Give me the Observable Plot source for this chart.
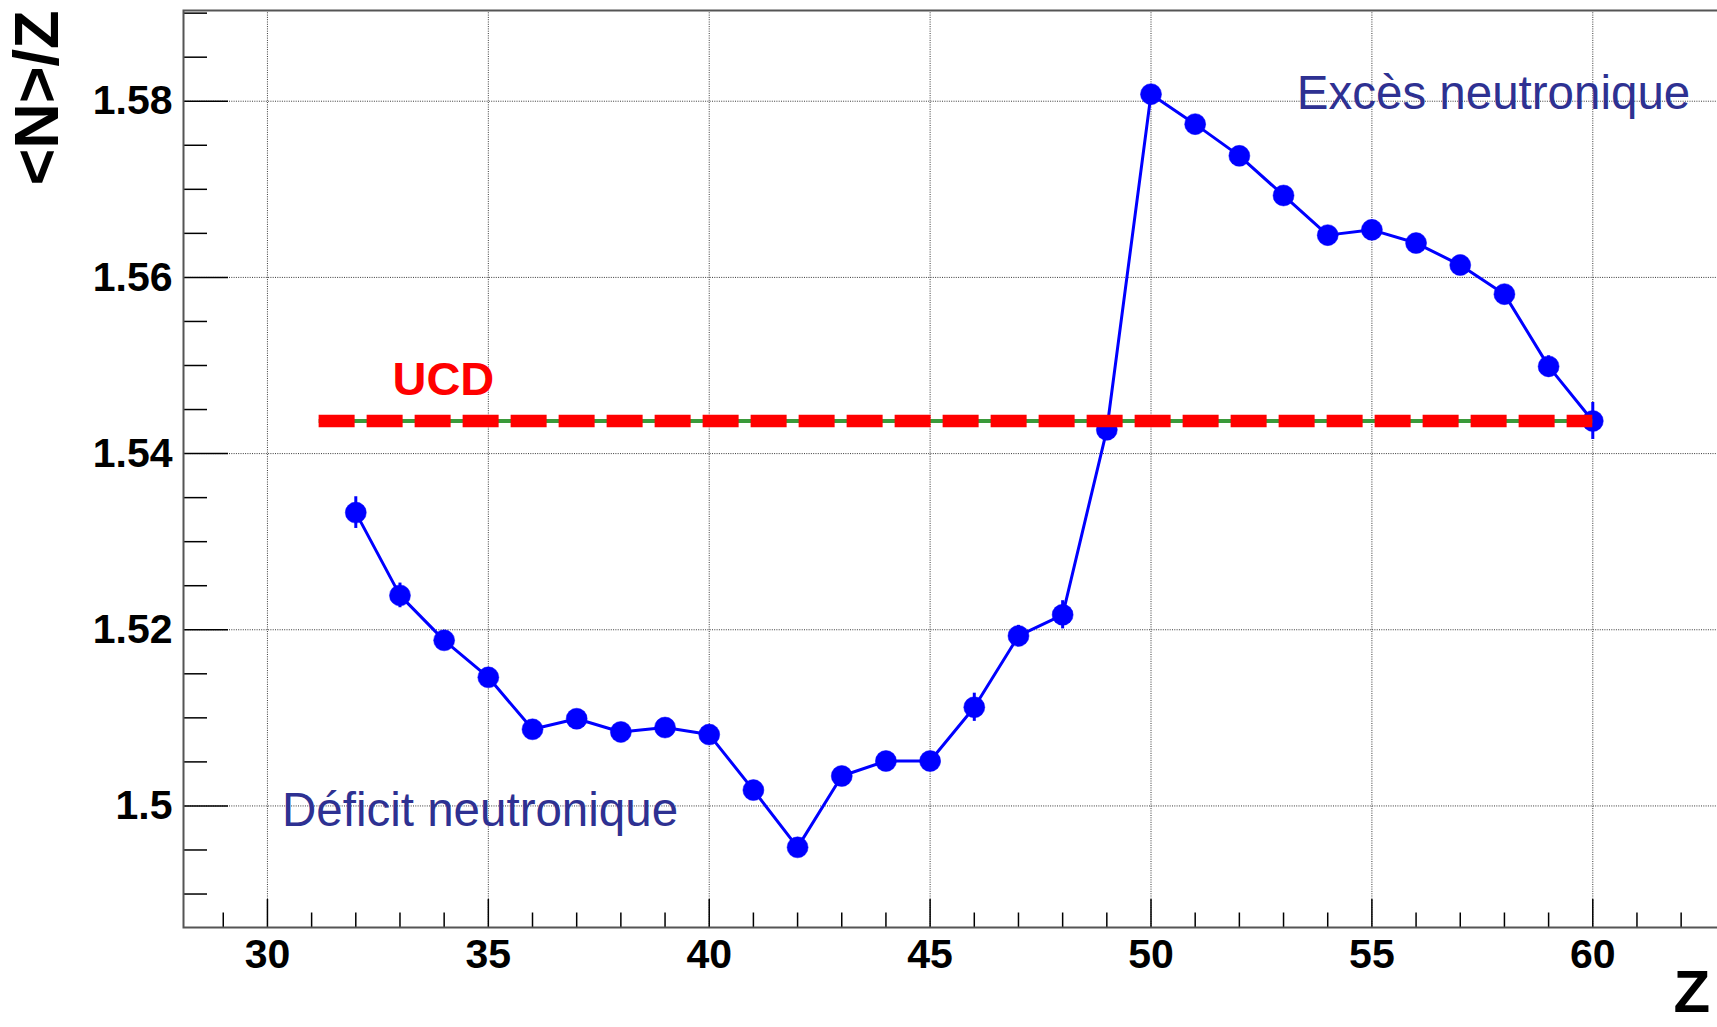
<!DOCTYPE html>
<html>
<head>
<meta charset="utf-8">
<script src="https://cdn.jsdelivr.net/npm/d3@7"></script>
<script src="https://cdn.jsdelivr.net/npm/@observablehq/plot@0.6"></script>
<style>
html, body { margin: 0; padding: 0; background: #fff; overflow: hidden; }
#wrap { width: 1717px; height: 1027px; overflow: hidden; position: relative; }
#wrap svg { max-width: none !important; display: block; }
</style>
</head>
<body>
<div id="wrap"></div>
<script>
// ---- data ----
const Z = [32, 33, 34, 35, 36, 37, 38, 39, 40, 41, 42, 43, 44, 45, 46,
           47, 48, 49, 50, 51, 52, 53, 54, 55, 56, 57, 58, 59, 60];
const NoverZ = [1.5333, 1.5239, 1.5188, 1.5146, 1.5087, 1.5099, 1.5084, 1.5089, 1.5081, 1.5018,
                1.4953, 1.5034, 1.5051, 1.5051, 1.5112, 1.5193, 1.5217, 1.5427, 1.5808, 1.5774,
                1.5738, 1.5693, 1.5648, 1.5654, 1.5639, 1.5614, 1.5581, 1.5499, 1.5437];
const NoverZerr = [0.0018, 0.0014, 0.0010, 0.0010, 0.0008, 0.0008, 0.0008, 0.0008, 0.0008, 0.0009,
                   0.0009, 0.0009, 0.0010, 0.0010, 0.0016, 0.0012, 0.0016, 0.0012, 0.0010, 0.0010,
                   0.0010, 0.0010, 0.0010, 0.0010, 0.0010, 0.0010, 0.0011, 0.0012, 0.0021];
const ucdValue = 1.5437;
const ucdFrom = 31.17;
const ucdTo = 60;

const xMajorTicks = [30, 35, 40, 45, 50, 55, 60];
const xMinorTicks = [29, 31, 32, 33, 34, 36, 37, 38, 39, 41, 42, 43, 44, 46, 47, 48, 49,
                     51, 52, 53, 54, 56, 57, 58, 59, 61, 62, 63];
const yMajorTicks = [1.5, 1.52, 1.54, 1.56, 1.58];
const yMinorTicks = [1.49, 1.495, 1.505, 1.51, 1.515, 1.525, 1.53, 1.535, 1.545, 1.55,
                     1.555, 1.565, 1.57, 1.575, 1.585, 1.59];

const xTitle = "Z";
const yTitle = "<N>/Z";
const annotLabels = ["UCD", "Excès neutronique", "Déficit neutronique"];
const annotZ = [32.83, 53.30, 30.33];
const annotV = [1.5484, 1.5809, 1.4994];

// ---- layout ----
const W = 1780, H = 1027, ML = 183, MR = 11, MT = 10, MB = 100;
const plotW = W - ML - MR, plotH = H - MT - MB;
const FONT = "'Liberation Sans', Arial, Helvetica, sans-serif";

const data = Z.map((z, i) => ({ z, v: NoverZ[i], e: NoverZerr[i] }));
const annots = annotLabels.map((t, i) => ({ t, z: annotZ[i], v: annotV[i] }));

const gridStyle = { stroke: "#222", strokeOpacity: 0.9, strokeWidth: 1, strokeDasharray: "1,1.3" };

const chart = Plot.plot({
  width: W, height: H,
  marginLeft: ML, marginRight: MR, marginTop: MT, marginBottom: MB,
  style: { fontFamily: FONT, background: "white", color: "black", overflow: "visible", maxWidth: "none" },
  x: { domain: [28.1, 64] },
  y: { domain: [1.4862, 1.5903] },
  marks: [
    Plot.gridX(xMajorTicks, gridStyle),
    Plot.gridY(yMajorTicks, gridStyle),
    Plot.tickX(xMajorTicks, { x: d => d, insetTop: plotH - 28, stroke: "#000", strokeWidth: 1.5 }),
    Plot.tickX(xMinorTicks, { x: d => d, insetTop: plotH - 14.5, stroke: "#000", strokeWidth: 1.5 }),
    Plot.tickY(yMajorTicks, { y: d => d, insetRight: plotW - 45, stroke: "#000", strokeWidth: 1.5 }),
    Plot.tickY(yMinorTicks, { y: d => d, insetRight: plotW - 24, stroke: "#000", strokeWidth: 1.5 }),
    Plot.frame({ stroke: "#555", strokeWidth: 2 }),
    Plot.axisX(xMajorTicks, { tickSize: 0, tickPadding: 11, fontSize: 41, fontWeight: "bold",
      tickFormat: d => String(d), label: null }),
    Plot.axisY(yMajorTicks, { tickSize: 0, tickPadding: 11, fontSize: 41, fontWeight: "bold",
      tickFormat: d => String(+d.toFixed(2)), label: null }),
    Plot.ruleX(data, { x: "z", y1: d => d.v - d.e, y2: d => d.v + d.e, stroke: "#0000ff", strokeWidth: 3 }),
    Plot.line(data, { x: "z", y: "v", stroke: "#0000ff", strokeWidth: 3 }),
    Plot.dot(data, { x: "z", y: "v", r: 10.5, fill: "#0000ff", stroke: "#0000ff", strokeWidth: 0.5 }),
    Plot.ruleY([ucdValue], { y: d => d, x1: () => ucdFrom, x2: () => ucdTo, stroke: "#3a9a3a", strokeWidth: 4 }),
    Plot.ruleY([ucdValue], { y: d => d, x1: () => ucdFrom, x2: () => ucdTo, stroke: "#ff0000",
      strokeWidth: 12.5, strokeDasharray: "36,12" }),
    Plot.text(annots.slice(0, 1), { x: "z", y: "v", text: "t", textAnchor: "start", lineAnchor: "middle",
      fill: "#ff0000", fontSize: 47, fontWeight: "bold" }),
    Plot.text(annots.slice(1), { x: "z", y: "v", text: "t", textAnchor: "start", lineAnchor: "middle",
      fill: "#2e3192", fontSize: 47.5 }),
    Plot.text([yTitle], { frameAnchor: "top-left", dx: -146, dy: 0, rotate: -90, textAnchor: "end",
      lineAnchor: "middle", fontSize: 63, fontWeight: "bold", fill: "#000" }),
    Plot.text([xTitle], { frameAnchor: "bottom-left", dx: 1490, dy: 42, textAnchor: "start",
      lineAnchor: "top", fontSize: 60, fontWeight: "bold", fill: "#000" })
  ]
});
document.getElementById("wrap").appendChild(chart);
</script>
</body>
</html>
